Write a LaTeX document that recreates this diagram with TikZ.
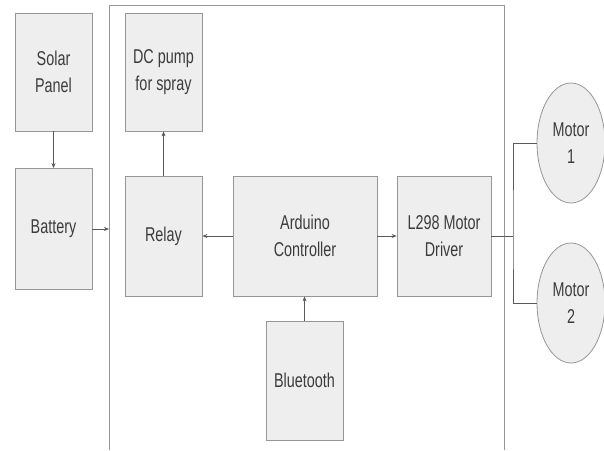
\documentclass[tikz,border=0pt]{standalone}
\usepackage{fontspec}
\setmainfont{Liberation Sans}[FakeStretch=0.72]
\usepackage{xcolor}
\usetikzlibrary{positioning,arrows.meta,shapes.geometric}
\definecolor{boxfill}{RGB}{238,238,238}
\definecolor{boxline}{RGB}{150,150,150}
\definecolor{wirecolor}{RGB}{90,90,90}
\definecolor{textgray}{RGB}{60,60,60}
\tikzset{
  block/.style={
    rectangle,
    draw=boxline,
    fill=boxfill,
    thick,
    align=center,
    inner sep=2pt,
    text=textgray,
    font=\fontsize{20}{27}\selectfont
  },
  motor/.style={
    ellipse,
    draw=boxline,
    fill=boxfill,
    thick,
    minimum width=68pt,
    minimum height=120pt,
    align=center,
    inner sep=0pt,
    text=textgray,
    font=\fontsize{20}{27}\selectfont
  },
  arrow/.style={
    -{Stealth[length=5pt,width=4pt]},
    draw=wirecolor,
    semithick
  },
  wire/.style={
    draw=wirecolor,
    semithick
  }
}

\begin{document}
\begin{tikzpicture}[x=1pt,y=-1pt]
  \useasboundingbox (0,0) rectangle (604,450);

  % Controller frame (open at the bottom)
  \draw[boxline, thick] (109,450) -- (109,5) -- (504,5) -- (504,450);
  \coordinate (frame in) at (109,229);

  % Power side
  \node[block, minimum width=77pt, minimum height=118pt] (solar) at (53.5,72) {Solar\\Panel};
  \node[block, minimum width=77pt, minimum height=121pt] (battery) at (53.5,229) {Battery};

  % Blocks inside the frame
  \node[block, minimum width=77pt, minimum height=118pt] (pump) at (163.5,72) {DC pump\\for spray};
  \node[block, minimum width=77pt, minimum height=120pt] (relay) at (163.5,236) {Relay};
  \node[block, minimum width=144pt, minimum height=120pt] (arduino) at (305,236) {Arduino\\Controller};
  \node[block, minimum width=94pt, minimum height=120pt] (driver) at (444,236) {L298 Motor\\Driver};
  \node[block, minimum width=77pt, minimum height=119pt] (bt) at (304.5,380.5) {Bluetooth};

  % Motors
  \node[motor] (m1) at (571,143) {Motor\\1};
  \node[motor] (m2) at (571,303) {Motor\\2};

  % Arrows
  \draw[arrow] (solar) -- (battery);
  \draw[arrow] (battery.east |- frame in) -- (frame in);
  \draw[arrow] (relay) -- (pump);
  \draw[arrow] (arduino.west |- relay) -- (relay);
  \draw[arrow] (arduino.east |- driver) -- (driver);
  \draw[arrow] (bt) -- (bt |- arduino.south);

  % Motor wiring
  \coordinate (split) at (513,236);
  \draw[wire] (driver.east) -- (split);
  \draw[wire] (m1.west) -| (split) |- (m2.west);
\end{tikzpicture}
\end{document}
